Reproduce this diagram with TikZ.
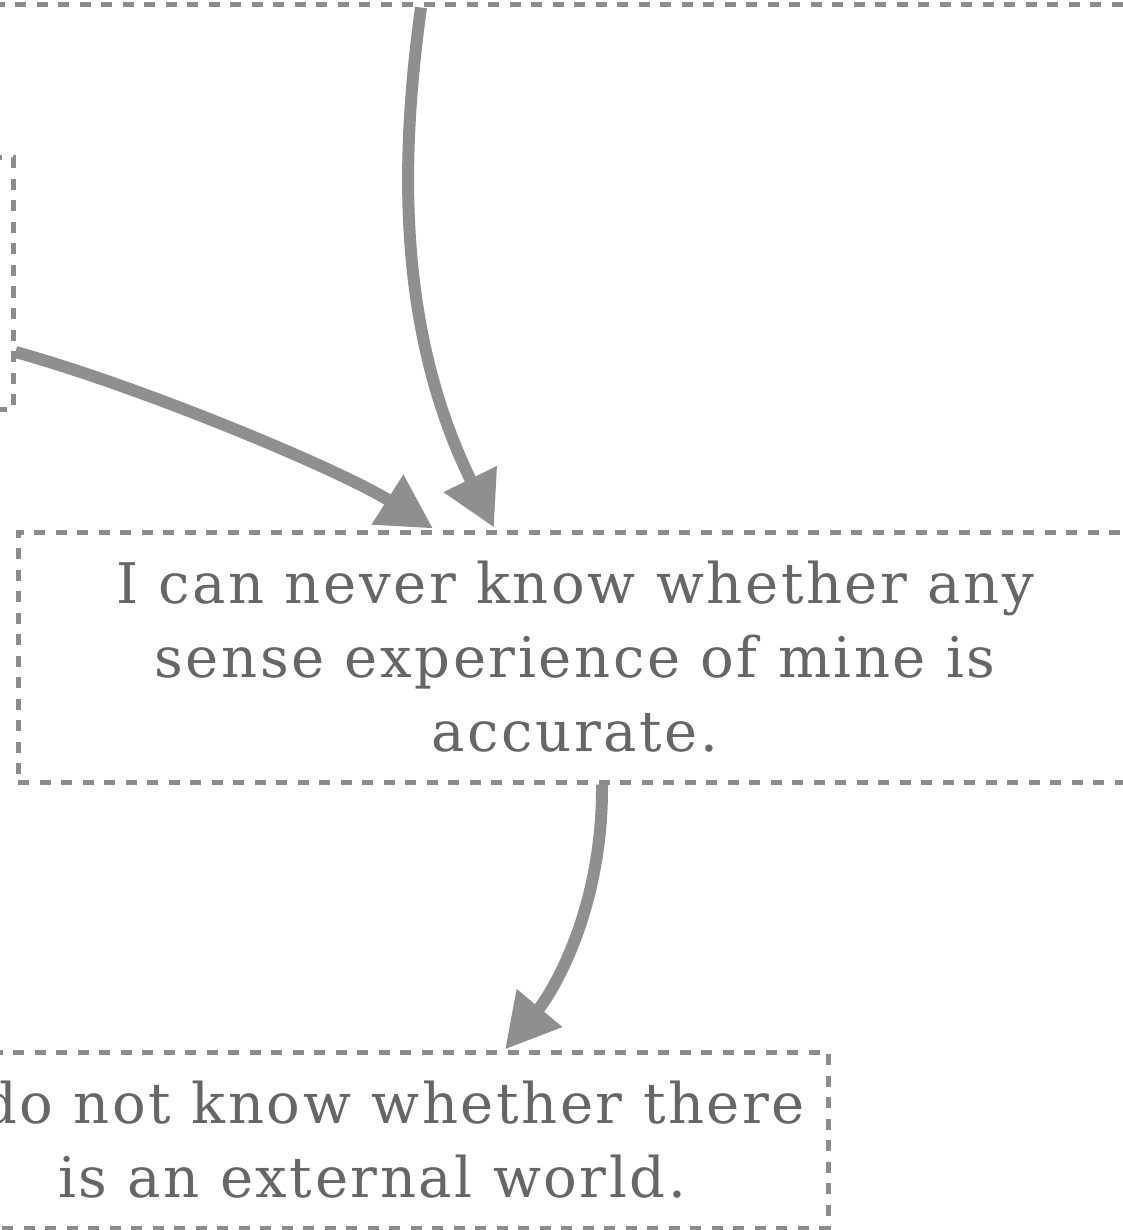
\documentclass[tikz,border=0pt]{standalone}
\usepackage{fontspec}
\setmainfont{DejaVu Serif}[LetterSpace=4.6]
\usetikzlibrary{arrows.meta}
\definecolor{boxgray}{HTML}{8A8C90}
\definecolor{arrowgray}{HTML}{8F8F8F}
\definecolor{textgray}{HTML}{666666}
\begin{document}
\begin{tikzpicture}[x=1pt,y=-1pt,
  argbox/.style={draw=boxgray, line width=5pt, dash pattern=on 11pt off 10.5pt, rectangle, inner sep=0pt, text=textgray, align=center, font=\fontsize{56}{74}\selectfont},
  link/.style={draw=arrowgray, line width=12pt, -{Triangle[length=54pt,width=56pt]}}]
\useasboundingbox (0,0) rectangle (1122,1230);
\node[argbox, minimum width=1600pt, minimum height=305pt] (top) at (600,-147.5) {};
\node[argbox, minimum width=426pt, minimum height=251pt] (left) at (-200,283.5) {};
\node[argbox, minimum width=1114pt, minimum height=250pt] (mid) at (575,657) {I can never know whether any\\sense experience of mine is\\accurate.};
\node[argbox, minimum width=912pt, minimum height=176pt] (bot) at (372,1140) {I do not know whether there\\is an external world.};
\draw[link] ([xshift=-179pt]top.south) .. controls (400,160) and (397,330) .. ([xshift=-81pt,yshift=2pt]mid.north);
\draw[link] ([yshift=-68.5pt]left.east) .. controls (142,387) and (341,470) .. ([xshift=-142pt,yshift=1pt]mid.north);
\draw[link] ([xshift=27pt]mid.south) .. controls (603,910) and (552,993) .. ([xshift=133pt]bot.north);
\end{tikzpicture}
\end{document}
